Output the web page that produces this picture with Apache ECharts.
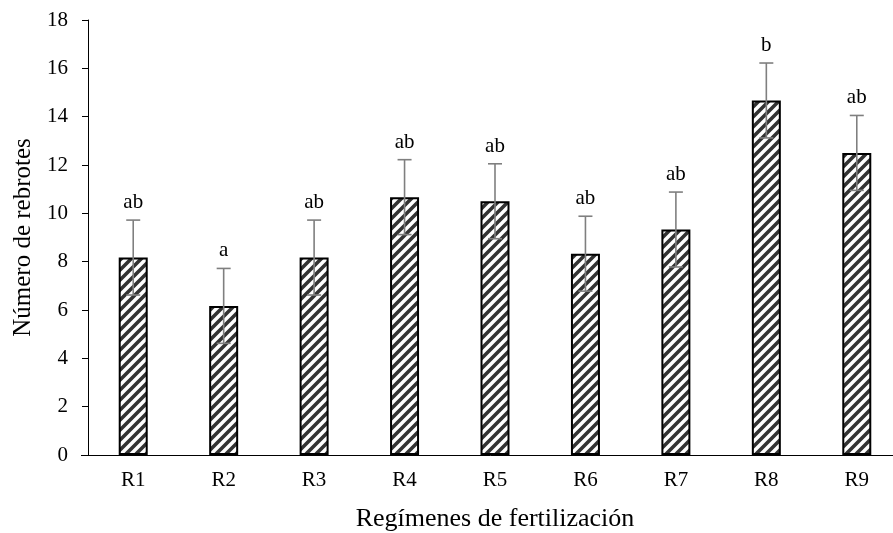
<!DOCTYPE html>
<html>
<head>
<meta charset="utf-8">
<script src="https://cdn.jsdelivr.net/npm/echarts@6/dist/echarts.min.js"></script>
<style>
  html, body { margin: 0; padding: 0; background: #fff; }
  #chart { width: 893px; height: 533px; }
</style>
</head>
<body>
<div id="chart"></div>
<script>
// Fertilization regimes and mean number of sprouts
const categories = ['R1', 'R2', 'R3', 'R4', 'R5', 'R6', 'R7', 'R8', 'R9'];
const meanValues = [8.17, 6.17, 8.17, 10.67, 10.5, 8.33, 9.33, 14.67, 12.5];
const errorValues = [1.55, 1.55, 1.55, 1.55, 1.55, 1.55, 1.55, 1.55, 1.55];
const groupLetters = ['ab', 'a', 'ab', 'ab', 'ab', 'ab', 'ab', 'b', 'ab'];
const yTicks = { min: 0, max: 18, interval: 2 };

// Diagonal hatch fill for the bars
function makeHatch() {
  const s = 10;
  const c = document.createElement('canvas');
  c.width = s; c.height = s;
  const ctx = c.getContext('2d');
  ctx.fillStyle = '#ffffff';
  ctx.fillRect(0, 0, s, s);
  ctx.strokeStyle = '#333333';
  ctx.lineWidth = 3.6;
  ctx.beginPath();
  ctx.moveTo(-2, s + 2); ctx.lineTo(s + 2, -2);
  ctx.moveTo(-2, 2); ctx.lineTo(2, -2);
  ctx.moveTo(s - 2, s + 2); ctx.lineTo(s + 2, s - 2);
  ctx.stroke();
  return c;
}

const serif = '"Liberation Serif", "Times New Roman", serif';
const gridLeft = 88;
const chart = echarts.init(document.getElementById('chart'), null, { renderer: 'canvas' });

const errData = categories.map((c, i) => [i, meanValues[i], errorValues[i], groupLetters[i]]);

chart.setOption({
  animation: false,
  grid: { left: gridLeft, top: 20, bottom: 78, width: 814, outerBoundsMode: 'none', containLabel: false },
  xAxis: {
    type: 'category',
    data: categories,
    name: 'Regímenes de fertilización',
    nameLocation: 'middle',
    nameGap: 51,
    nameTextStyle: { fontFamily: serif, fontSize: 26, color: '#000' },
    axisLine: { lineStyle: { color: '#000', width: 1 } },
    axisTick: { alignWithLabel: true, length: 6, lineStyle: { color: '#000' } },
    axisLabel: { fontFamily: serif, fontSize: 21, color: '#000', margin: 15 }
  },
  yAxis: {
    type: 'value',
    min: yTicks.min, max: yTicks.max, interval: yTicks.interval,
    name: 'Número de rebrotes',
    nameLocation: 'middle',
    nameGap: 52,
    nameTextStyle: { fontFamily: serif, fontSize: 25, color: '#000' },
    axisLine: { show: true, lineStyle: { color: '#000', width: 1 } },
    axisTick: { show: true, length: 6, lineStyle: { color: '#000' } },
    axisLabel: { fontFamily: serif, fontSize: 21, color: '#000', margin: 20 },
    splitLine: { show: false }
  },
  series: [
    {
      type: 'bar',
      data: meanValues,
      barWidth: 29,
      itemStyle: {
        color: { image: makeHatch(), repeat: 'repeat' },
        borderColor: '#000',
        borderWidth: 2
      }
    },
    {
      type: 'custom',
      data: errData,
      z: 10,
      renderItem: function (params, api) {
        const x = api.value(0);
        const m = api.value(1);
        const e = api.value(2);
        const hi = api.coord([x, m + e]);
        const lo = api.coord([x, m - e]);
        const half = 7;
        const st = { stroke: '#7f7f7f', lineWidth: 1.6 };
        return {
          type: 'group',
          children: [
            { type: 'line', shape: { x1: hi[0], y1: hi[1], x2: lo[0], y2: lo[1] }, style: st },
            { type: 'line', shape: { x1: hi[0] - half, y1: hi[1], x2: hi[0] + half, y2: hi[1] }, style: st },
            { type: 'line', shape: { x1: lo[0] - half, y1: lo[1], x2: lo[0] + half, y2: lo[1] }, style: st },
            {
              type: 'text',
              style: {
                x: hi[0], y: hi[1] - 7,
                text: api.value(3),
                align: 'center', verticalAlign: 'bottom',
                font: '21px ' + serif,
                fill: '#000'
              }
            }
          ]
        };
      }
    }
  ]
});

// short stub of the horizontal axis reaching left past the vertical axis
const y0 = Math.round(chart.convertToPixel({ yAxisIndex: 0 }, 0)) + 0.5;
chart.setOption({
  graphic: [{
    type: 'line', shape: { x1: gridLeft - 7, y1: y0, x2: gridLeft, y2: y0 },
    style: { stroke: '#000', lineWidth: 1 }
  }]
});
</script>
</body>
</html>
